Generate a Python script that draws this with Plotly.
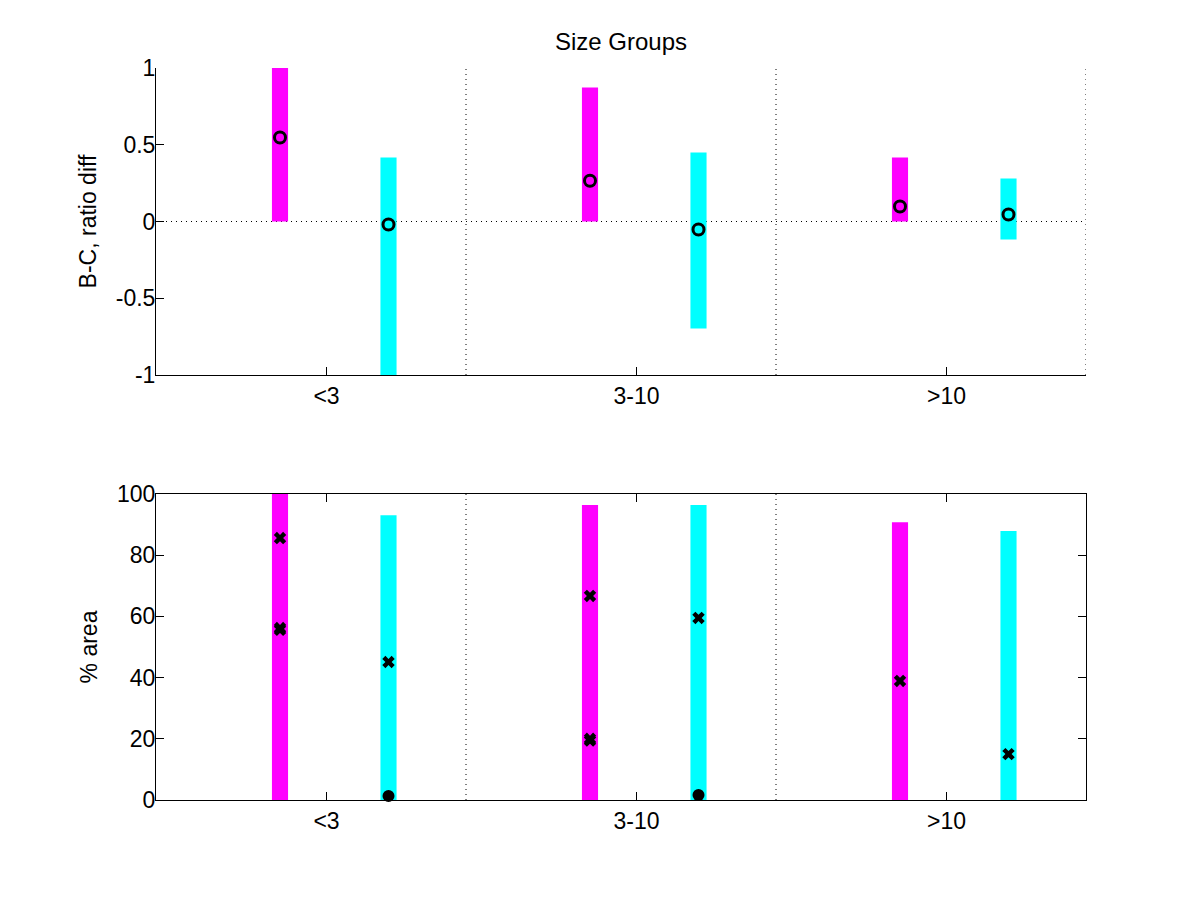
import plotly.graph_objects as go

categories = ["<3", "3-10", ">10"]
cat_pos = [1, 2, 3]

# top panel: B-C ratio difference
top_mag_low = [0.0, 0.0, 0.0]
top_mag_high = [1.0, 0.873, 0.417]
top_cyan_low = [-1.0, -0.697, -0.117]
top_cyan_high = [0.417, 0.45, 0.28]
top_mag_point = [0.547, 0.265, 0.098]
top_cyan_point = [-0.02, -0.052, 0.046]

# bottom panel: % area
bot_mag_low = [0, 0, 0]
bot_mag_high = [100, 96.4, 90.8]
bot_cyan_low = [0, 0, 0]
bot_cyan_high = [93.1, 96.4, 87.9]
bot_mag_cross_cat = [1, 1, 1, 2, 2, 2, 3]
bot_mag_cross_val = [85.6, 56.2, 55.6, 66.7, 20.0, 19.4, 38.9]
bot_cyan_cross_cat = [1, 2, 3]
bot_cyan_cross_val = [45.1, 59.5, 15.0]
bot_cyan_dot_cat = [1, 2]
bot_cyan_dot_val = [1.3, 1.6]

MAG_OFF = -0.15
CYAN_OFF = 0.2
BAR_W = 0.052
MAGENTA = "#ff00ff"
CYAN = "#00ffff"

fig = go.Figure()

def add_bars(xs, lo, hi, color, off, xa, ya):
    fig.add_trace(go.Bar(
        x=[p + off for p in xs], y=[h - l for h, l in zip(hi, lo)], base=lo,
        width=BAR_W, marker=dict(color=color, line=dict(width=0)),
        xaxis=xa, yaxis=ya, showlegend=False))

add_bars(cat_pos, top_mag_low, top_mag_high, MAGENTA, MAG_OFF, "x", "y")
add_bars(cat_pos, top_cyan_low, top_cyan_high, CYAN, CYAN_OFF, "x", "y")
add_bars(cat_pos, bot_mag_low, bot_mag_high, MAGENTA, MAG_OFF, "x2", "y2")
add_bars(cat_pos, bot_cyan_low, bot_cyan_high, CYAN, CYAN_OFF, "x2", "y2")

circ = dict(symbol="circle-open", size=11, color="black", line=dict(width=3, color="black"))
fig.add_trace(go.Scatter(x=[p + MAG_OFF for p in cat_pos], y=top_mag_point, mode="markers",
                         marker=circ, xaxis="x", yaxis="y", showlegend=False))
fig.add_trace(go.Scatter(x=[p + CYAN_OFF for p in cat_pos], y=top_cyan_point, mode="markers",
                         marker=circ, xaxis="x", yaxis="y", showlegend=False))

cross = dict(symbol="x", size=11, color="black", line=dict(width=0))
fig.add_trace(go.Scatter(x=[p + MAG_OFF for p in bot_mag_cross_cat], y=bot_mag_cross_val,
                         mode="markers", marker=cross, xaxis="x2", yaxis="y2", showlegend=False))
fig.add_trace(go.Scatter(x=[p + CYAN_OFF for p in bot_cyan_cross_cat], y=bot_cyan_cross_val,
                         mode="markers", marker=cross, xaxis="x2", yaxis="y2", showlegend=False))
fig.add_trace(go.Scatter(x=[p + CYAN_OFF for p in bot_cyan_dot_cat], y=bot_cyan_dot_val,
                         mode="markers", marker=dict(symbol="circle", size=12, color="black"),
                         xaxis="x2", yaxis="y2", showlegend=False, cliponaxis=False))

DOT = dict(color="black", width=1, dash="1px,4px")
shapes = []
for xv in [1.45, 2.45]:
    shapes.append(dict(type="line", xref="x", yref="y domain", x0=xv, x1=xv, y0=0, y1=1, line=DOT))
    shapes.append(dict(type="line", xref="x2", yref="y2 domain", x0=xv, x1=xv, y0=0, y1=1, line=DOT))
shapes.append(dict(type="line", xref="x", yref="y domain", x0=3.45, x1=3.45, y0=0, y1=1, line=DOT))
shapes.append(dict(type="line", xref="x domain", yref="y", x0=0, x1=1, y0=0, y1=0, line=DOT, layer="below"))

FONT = dict(family="Liberation Sans, Arial, sans-serif", size=23, color="black")
TITLE_FONT = dict(family="Liberation Sans, Arial, sans-serif", size=24, color="black")
XR = [0.45, 3.45]

axis_common = dict(showgrid=False, zeroline=False, showline=True, linecolor="black", linewidth=1,
                   ticks="inside", ticklen=8, tickcolor="black", tickwidth=1, tickfont=FONT)

fig.update_layout(
    width=1200, height=900,
    paper_bgcolor="white", plot_bgcolor="white",
    margin=dict(l=148, r=122, t=60, b=108),
    font=FONT,
    barmode="overlay",
    shapes=shapes,
    title=dict(text="Size Groups", xref="paper", x=0.5, xanchor="center",
               yref="container", y=1 - 34 / 900, yanchor="middle", font=TITLE_FONT),
    xaxis=dict(axis_common, domain=[0, 1], range=XR, tickvals=cat_pos, ticktext=categories,
               anchor="y", mirror=False, ticklabelstandoff=0),
    yaxis=dict(axis_common, domain=[0.5806, 1.0], range=[-1, 1], tickvals=[-1, -0.5, 0, 0.5, 1],
               ticktext=["-1", "-0.5", "0", "0.5", "1"], anchor="x", mirror=False,
               ticklabelstandoff=-5,
               title=dict(text="B-C, ratio diff", font=FONT, standoff=12)),
    xaxis2=dict(axis_common, domain=[0, 1], range=XR, tickvals=cat_pos, ticktext=categories,
                anchor="y2", mirror="ticks", ticklabelstandoff=0),
    yaxis2=dict(axis_common, domain=[0, 0.418], range=[0, 100], tickvals=[0, 20, 40, 60, 80, 100],
                anchor="x2", mirror="ticks", ticklabelstandoff=-5,
                title=dict(text="% area", font=FONT, standoff=12)),
)

fig.write_html("out.html")
